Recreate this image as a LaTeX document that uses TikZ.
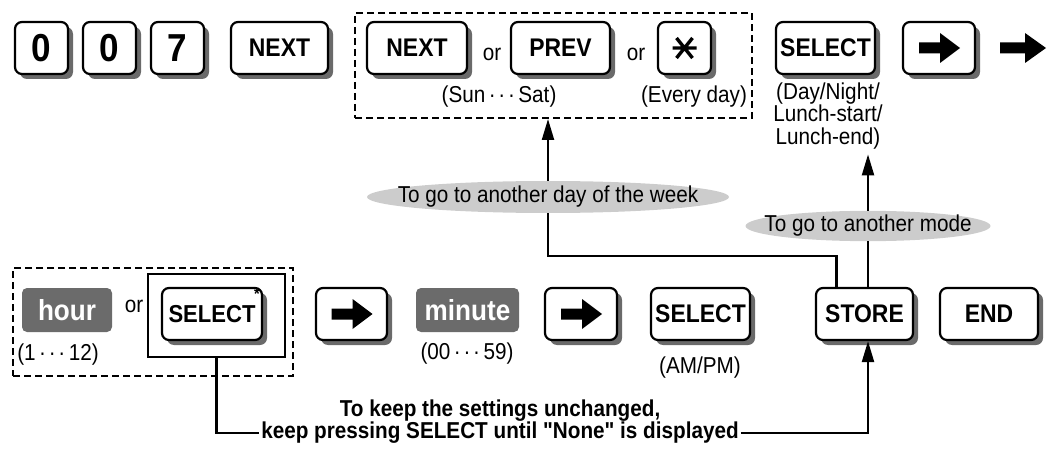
\documentclass[tikz,border=0pt]{standalone}
\usepackage{fontspec}
\setmainfont{Liberation Sans}[FakeStretch=0.9]
\newfontfamily\plainsans{Liberation Sans}[FakeStretch=0.9]
\usetikzlibrary{arrows.meta,shapes.geometric,shadows,calc}
\definecolor{shadowgray}{HTML}{6A6A6A}
\definecolor{boxgray}{HTML}{6B6B6B}
\definecolor{ovalgray}{HTML}{CCCCCC}
\newcommand\kf{\bfseries\fontsize{25.5}{26}\selectfont}
\newcommand\df{\bfseries\fontsize{39}{40}\selectfont}
\newcommand\lf{\fontsize{23}{22.5}\selectfont}
\newcommand\cdts{\kern0.15em·\kern0.12em·\kern0.12em·\kern0.15em}
\tikzset{
  key/.style={draw, line width=2.2pt, rounded corners=7pt, fill=white, inner sep=0pt,
    minimum height=52pt, font=\kf,
    drop shadow={shadow xshift=5pt, shadow yshift=-5pt, fill=shadowgray, opacity=1}},
  valbox/.style={fill=boxgray, rounded corners=5pt, text=white, inner sep=0pt,
    minimum height=44pt, font=\bfseries\fontsize{29}{29}\selectfont},
  dbox/.style={draw, line width=2pt, dash pattern=on 7pt off 4pt, inner sep=0pt},
  oval/.style={ellipse, fill=ovalgray, inner sep=0pt, font=\lf},
  lbl/.style={font=\lf, inner sep=0pt},
  conn/.style={line width=2.2pt},
  arr/.style={line width=2.2pt, -{Triangle[length=21pt,width=12pt]}},
  kbarrow/.style={fill=black},
}
\begin{document}
\begin{tikzpicture}[x=1pt,y=-1pt]
\useasboundingbox (0,0) rectangle (1048,454);
% top row
\node[key, minimum width=53pt, font=\df] (d1) at (41.5,48) {0};
\node[key, minimum width=53pt, font=\df] (d2) at (109.5,48) {0};
\node[key, minimum width=53pt, font=\df] (d3) at (177.5,48) {7};
\node[key, minimum width=97pt] (nx1) at (279.5,48) {NEXT};
\node[dbox, minimum width=397pt, minimum height=105pt] (db1) at (553.5,65.5) {};
\node[key, minimum width=100pt] (nx2) at (417,48) {NEXT};
\node[lbl] (or1) at (492,54) {or};
\node[key, minimum width=99pt] (prv) at (560.5,48) {PREV};
\node[lbl] (or2) at (636,54) {or};
\node[key, minimum width=53pt] (star) at (684.5,48) {};
\draw[line width=3.4pt, shift={(star.center)}] (-12,0) -- (12,0) (-8,-10) -- (8,10) (-8,10) -- (8,-10);
\node[lbl] (sun) at (499,97) {(Sun\cdts Sat)};
\node[lbl] (every) at (694,97) {(Every day)};
\node[key, minimum width=99pt] (sel1) at (825.5,48) {SELECT};
\node[key, minimum width=72pt] (ar1) at (939,48) {};
\fill[kbarrow, shift={(ar1.center)}] (-20,-5.5) -- (1,-5.5) -- (1,-15) -- (21,0) -- (1,15) -- (1,5.5) -- (-20,5.5) -- cycle;
\coordinate (bigar) at (1023,48);
\fill[kbarrow, shift={(bigar)}] (-23,-5.5) -- (2,-5.5) -- (2,-15) -- (23,0) -- (2,15) -- (2,5.5) -- (-23,5.5) -- cycle;
\node[lbl, align=center] (dn) at (828,116) {(Day/Night/\\Lunch-start/\\Lunch-end)};
% ovals
\node[oval, minimum width=362pt, minimum height=32pt] (e1) at (548,197) {\makebox[0pt]{To go to another day of the week}};
\node[oval, minimum width=245pt, minimum height=30pt] (e2) at (868,226) {\makebox[0pt]{To go to another mode}};
% bottom row
\node[dbox, minimum width=280pt, minimum height=108pt] (db2) at (153,322) {};
\node[valbox, minimum width=90pt] (hour) at (67,310) {hour};
\node[lbl] (or3) at (134,306) {or};
\node[draw, line width=2.2pt, minimum width=137pt, minimum height=83pt, inner sep=0pt] (selrect) at (216.5,315.5) {};
\node[key, minimum width=100pt, font=\bfseries\fontsize{24.5}{26}\selectfont] (sel2) at (212,314) {SELECT};
\node[font=\bfseries\fontsize{16}{16}\selectfont, inner sep=0pt] (ast) at (257,294) {*};
\node[lbl] (r12) at (58,355) {(1\cdts 12)};
\node[key, minimum width=71pt] (ar2) at (351.5,314) {};
\fill[kbarrow, shift={(ar2.center)}] (-20,-5.5) -- (1,-5.5) -- (1,-15) -- (21,0) -- (1,15) -- (1,5.5) -- (-20,5.5) -- cycle;
\node[valbox, minimum width=103pt] (minute) at (467.5,310) {minute};
\node[lbl] (r59) at (467,354) {(00\cdts 59)};
\node[key, minimum width=72pt] (ar3) at (581,314) {};
\fill[kbarrow, shift={(ar3.center)}] (-20,-5.5) -- (1,-5.5) -- (1,-15) -- (21,0) -- (1,15) -- (1,5.5) -- (-20,5.5) -- cycle;
\node[key, minimum width=99pt] (sel3) at (700.5,314) {SELECT};
\node[lbl] (ampm) at (700,368) {(AM/PM)};
\node[key, minimum width=97pt] (store) at (864.5,314) {STORE};
\node[key, minimum width=98pt] (endk) at (989,314) {END};
% bottom text
\node[font=\plainsans\bfseries\fontsize{23}{23}\selectfont, inner sep=0pt] (bt1) at (500,411) {To keep the settings unchanged,};
\node[font=\plainsans\bfseries\fontsize{23}{23}\selectfont, inner sep=2pt] (bt2) at (500,433) {keep pressing SELECT until "None" is displayed};
% connectors
\draw[arr] (e1.north) -- (e1.north |- db1.south);
\coordinate (sj) at ($(store.north)+(-28,0)$);
\draw[conn] (e1.south) -- (e1.south |- 0,256) -| (sj);
\draw[arr] (e2.north) -- ($(e2.north |- dn.south)+(0,5)$);
\draw[conn] (e2.south) -- (e2.south |- store.north);
\draw[conn] (selrect.south) |- (bt2.west);
\draw[arr] (bt2.east) -| (e2.south |- store.south);
\end{tikzpicture}
\end{document}
